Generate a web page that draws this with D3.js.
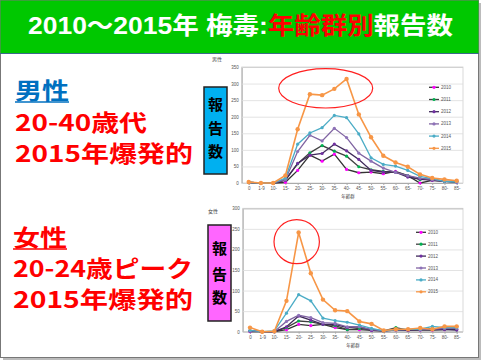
<!DOCTYPE html>
<html><head><meta charset="utf-8">
<script src="https://cdn.jsdelivr.net/npm/d3@7"></script>
<style>body{margin:0;background:#fff}svg{display:block}</style>
</head><body>
<script>
const categories = ["0","1-9","10-","15-","20-","25-","30-","35-","40-","45-","50-","55-","60-","65-","70-","75-","80-","85-"];
const years = ["2010","2011","2012","2013","2014","2015"];
const male2010 = [2,0,0,2,38,84,66,87,41,31,33,28,35,22,0,8,5,3];
const male2011 = [2,0,0,10,58,91,113,96,81,49,40,35,33,22,10,12,5,5];
const male2012 = [2,0,0,8,59,84,89,117,97,71,38,33,33,18,12,8,5,3];
const male2013 = [2,0,0,10,95,144,127,165,137,90,66,45,32,22,15,10,5,5];
const male2014 = [2,0,0,15,117,151,167,204,197,148,76,56,51,38,20,13,5,3];
const male2015 = [3,0,0,23,162,268,265,284,314,207,138,82,62,49,26,15,11,7];
const female2010 = [0,0,0,5,18,15,18,10,5,5,3,2,4,3,4,4,5,6];
const female2011 = [2,0,0,10,26,24,18,15,5,8,5,2,10,4,5,8,6,5];
const female2012 = [2,0,0,12,38,28,18,18,10,12,3,2,5,3,5,5,6,4];
const female2013 = [2,0,0,25,40,34,22,20,12,12,5,2,4,5,5,6,8,8];
const female2014 = [3,0,2,45,90,75,33,27,23,16,8,2,5,6,6,13,10,10];
const female2015 = [10,0,1,75,241,142,78,52,50,25,19,3,6,6,9,6,13,13];
const maleTicks = [0,50,100,150,200,250,300,350];
const femaleTicks = [0,50,100,150,200,250,300];

const lineColors = ["#333333","#404040","#3f2a5a","#8064a2","#4bacc6","#f79646"];
const markColors = ["#ff00ff","#00b050","#7030a0","#8e72b8","#4bacc6","#f79646"];

const W=484,H=364;
const svg=d3.select("body").append("svg").attr("width",W).attr("height",H);
const JP="'Noto Sans CJK JP','Noto Sans',sans-serif";
const LAT="'Liberation Sans',Arial,'Noto Sans CJK JP',sans-serif";

// slide frame & shadow
svg.append("rect").attr("x",3).attr("y",3).attr("width",478).attr("height",357).attr("fill","#bbbbbb");
svg.append("rect").attr("x",0.5).attr("y",0.5).attr("width",478).attr("height",357).attr("fill","#fff").attr("stroke","#777");

// title
svg.append("rect").attr("x",0.5).attr("y",0.5).attr("width",478).attr("height",53).attr("fill","#00c800");
svg.append("line").attr("x1",0).attr("x2",479).attr("y1",53.5).attr("y2",53.5).attr("stroke","#3a6a8a").attr("stroke-width",1);
const tt=svg.append("text").attr("x",28).attr("y",34).attr("textLength",425).attr("lengthAdjust","spacingAndGlyphs")
  .attr("font-family",LAT).attr("font-size",24).attr("font-weight","bold").attr("fill","#fff");
tt.append("tspan").text("2010～2015年 梅毒:");
tt.append("tspan").attr("fill","#ff0000").text("年齢群別");
tt.append("tspan").text("報告数");

// left annotations
function leftText(txt,x,y,color,len,underline){
  svg.append("text").attr("x",x).attr("y",y).attr("font-family",JP).attr("font-weight","bold")
    .attr("font-size",23).attr("fill",color).attr("textLength",len).attr("lengthAdjust","spacingAndGlyphs").text(txt);
  if(underline){svg.append("line").attr("x1",x).attr("x2",x+len).attr("y1",y+3).attr("y2",y+3).attr("stroke",color).attr("stroke-width",1.5);}
}
leftText("男性",15,99,"#0070c0",54,true);
leftText("20-40歳代",15,131,"#ff0000",132,false);
leftText("2015年爆発的",15,162,"#ff0000",178,false);
leftText("女性",13,246,"#ff0000",54,true);
leftText("20-24歳ピーク",13,277,"#ff0000",180,false);
leftText("2015年爆発的",13,308,"#ff0000",180,false);

// 報告数 boxes
function vbox(x,y,w,h,fill,ys){
  svg.append("rect").attr("x",x).attr("y",y).attr("width",w).attr("height",h).attr("fill",fill).attr("stroke","#222").attr("stroke-width",1.5);
  ["報","告","数"].forEach((c,i)=>svg.append("text").attr("x",x+w/2).attr("y",ys[i]).attr("text-anchor","middle")
    .attr("dominant-baseline","central").attr("font-family",JP).attr("font-weight","bold").attr("font-size",15).attr("fill","#000").text(c));
}
vbox(204,87,23,87,"#00b0f0",[103,127,150]);
vbox(208,225,23,96,"#ff66ff",[247,273,296]);

function chart(o){
  const g=svg.append("g");
  const x=d3.scalePoint().domain(categories).range([o.x0,o.x1]);
  const y=d3.scaleLinear().domain([0,o.ymax]).range([o.yb,o.yt]);
  g.append("rect").attr("x",o.pl).attr("y",o.yt).attr("width",o.pr-o.pl).attr("height",o.yb-o.yt).attr("fill","#fff").attr("stroke","#d0d0d0").attr("stroke-width",0.8);
  const ya=g.append("g").attr("transform",`translate(${o.pl},0)`).call(d3.axisLeft(y).tickValues(o.ticks).tickSize(-(o.pr-o.pl)).tickPadding(3));
  ya.selectAll(".tick line").attr("stroke","#dcdcdc").attr("stroke-width",0.8);
  ya.select(".domain").attr("stroke","#aaa");
  ya.selectAll("text").attr("font-size",4.5).attr("fill","#555").attr("font-family",LAT);
  const xa=g.append("g").attr("transform",`translate(0,${o.yb})`).call(d3.axisBottom(x).tickSize(2).tickPadding(2));
  xa.select(".domain").attr("stroke","#aaa");
  xa.selectAll(".tick line").attr("stroke","#aaa");
  xa.selectAll("text").attr("font-size",4.5).attr("fill","#555").attr("font-family",LAT);
  g.append("text").attr("x",o.xtx).attr("y",o.xty).attr("text-anchor","middle").attr("font-size",4.5).attr("fill","#444").attr("font-family",JP).text("年齢群");
  g.append("text").attr("x",o.gx).attr("y",o.gy).attr("font-size",5).attr("fill","#444").attr("font-family",JP).text(o.gender);
  const line=d3.line().x((d,i)=>x(categories[i])).y(d=>y(d));
  o.series.forEach((s,k)=>{
    g.append("path").datum(s).attr("d",line).attr("fill","none").attr("stroke",lineColors[k]).attr("stroke-width",k==5?1.6:1.3);
    g.selectAll(null).data(s).enter().append("circle").attr("cx",(d,i)=>x(categories[i])).attr("cy",d=>y(d))
      .attr("r",k==5?2.2:1.6).attr("fill",markColors[k]);
  });
  years.forEach((yr,k)=>{
    const ly=o.ly+k*o.lstep;
    g.append("line").attr("x1",o.lx).attr("x2",o.lx+o.lw).attr("y1",ly).attr("y2",ly).attr("stroke",lineColors[k]).attr("stroke-width",1.3);
    g.append("circle").attr("cx",o.lx+o.lw/2).attr("cy",ly).attr("r",1.6).attr("fill",markColors[k]);
    g.append("text").attr("x",o.lx+o.lw+2).attr("y",ly).attr("dominant-baseline","central").attr("font-size",4.5).attr("fill","#555").attr("font-family",LAT).text(yr);
  });
  g.append("ellipse").attr("cx",o.ex).attr("cy",o.ey).attr("rx",o.erx).attr("ry",o.ery).attr("fill","none").attr("stroke","#ff2020").attr("stroke-width",1.2);
}
chart({x0:248.7,x1:456.7,pl:241.7,pr:463,yb:183,yt:67,ymax:350,ticks:maleTicks,
  series:[male2010,male2011,male2012,male2013,male2014,male2015],xtx:348,xty:198,gx:212,gy:61,gender:"男性",
  lx:429,lw:10,ly:87.3,lstep:12.2,ex:325.7,ey:88.3,erx:47,ery:19.7});
chart({x0:250,x1:456.7,pl:242.7,pr:463,yb:331.7,yt:208.3,ymax:300,ticks:femaleTicks,
  series:[female2010,female2011,female2012,female2013,female2014,female2015],xtx:353,xty:347,gx:208,gy:213,gender:"女性",
  lx:416,lw:10,ly:232.3,lstep:11.9,ex:296.7,ey:241.7,erx:22.7,ery:22});
</script>
</body></html>
